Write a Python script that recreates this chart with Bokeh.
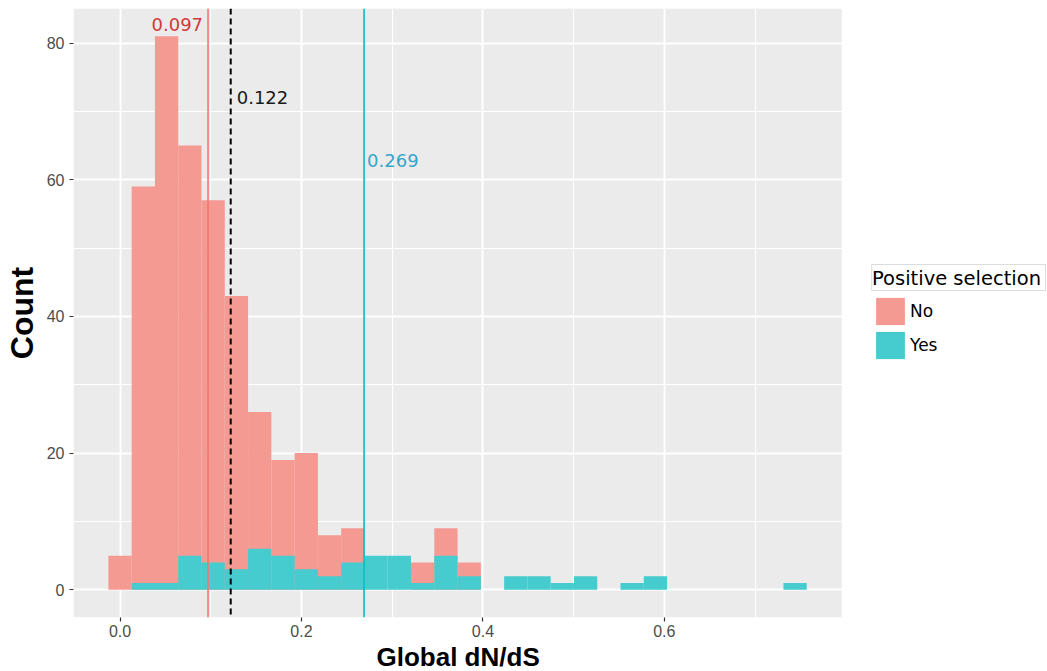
import numpy as np
from bokeh.plotting import figure
from bokeh.models import (Legend, LegendItem, Span, Label, FixedTicker, Range1d,
                          ColumnDataSource, PrintfTickFormatter, BoxAnnotation, Title)
from bokeh.embed import file_html
from bokeh.resources import INLINE

# ---- data ----
bin_width = 0.02566          # histogram bin width (30 bins, first centred at 0)
no_counts = [5, 59, 81, 65, 57, 43, 26, 19, 20, 8, 9, 0, 0, 4, 9, 4,
             0, 0, 0, 0, 0, 0, 0, 0, 0, 0, 0, 0, 0, 0]
yes_counts = [0, 1, 1, 5, 4, 3, 6, 5, 3, 2, 4, 5, 5, 1, 5, 2,
              0, 2, 2, 1, 2, 0, 1, 2, 0, 0, 0, 0, 0, 1]
median_no = 0.097
median_all = 0.122
median_yes = 0.269
x_ticks = [0.0, 0.2, 0.4, 0.6]
x_minor = [0.1, 0.3, 0.5, 0.7]
y_ticks = [0, 20, 40, 60, 80]
y_minor = [10, 30, 50, 70]
groups = ["No", "Yes"]
x_title = "Global dN/dS"
y_title = "Count"

# ---- layout ----
W, H = 1047, 671
left_border, top_border, bottom_border = 72, 8, 54
panel_px = 769                      # width of the grey panel
x_lo, x_hi = -0.0513, 0.7955        # ggplot-style expanded x limits of the panel
y_lo, y_hi = -4.05, 85.05
frame_px = W - left_border
frame_py = H - top_border - bottom_border
x_end = x_lo + (x_hi - x_lo) * frame_px / panel_px
px_per_x = panel_px / (x_hi - x_lo)
px_per_y = frame_py / (y_hi - y_lo)

def sx(px):   # canvas pixel -> data x (for decoration only)
    return x_lo + (px - left_border) / px_per_x

def sy(py):   # canvas pixel -> data y (for decoration only)
    return y_lo + (top_border + frame_py - py) / px_per_y

n = len(no_counts)
left = -bin_width / 2 + np.arange(n) * bin_width
right = left + bin_width

src_no = ColumnDataSource(dict(left=left, right=right, top=no_counts, bottom=[0] * n))
src_yes = ColumnDataSource(dict(left=left, right=right, top=yes_counts, bottom=[0] * n))

p = figure(width=W, height=H, output_backend="svg", toolbar_location=None,
           x_range=Range1d(x_lo, x_end), y_range=Range1d(y_lo, y_hi),
           min_border_left=left_border, min_border_right=0, min_border_top=top_border,
           min_border_bottom=bottom_border)

p.background_fill_color = "white"
p.border_fill_color = "white"
p.outline_line_color = None

# grey panel
p.add_layout(BoxAnnotation(left=x_lo, right=x_hi, fill_color="#EBEBEB", fill_alpha=1.0,
                           line_color=None, level="image"))

r_no = p.quad(left="left", right="right", top="top", bottom="bottom", source=src_no,
              fill_color="#F49A93", line_color=None)
r_yes = p.quad(left="left", right="right", top="top", bottom="bottom", source=src_yes,
               fill_color="#46CBCF", line_color=None)

# medians
p.add_layout(Span(location=median_no, dimension="height", line_color="#F8766D", line_width=1.6))
p.add_layout(Span(location=median_all, dimension="height", line_color="black",
                  line_width=2, line_dash="6 4"))
p.add_layout(Span(location=median_yes, dimension="height", line_color="#00BFC4", line_width=1.6))

p.add_layout(Label(x=median_no, y=82.7, x_offset=-5, text="0.097", text_align="right",
                   text_baseline="middle", text_color="#D03A3A", text_font="DejaVu Sans",
                   text_font_size="18px"))
p.add_layout(Label(x=median_all, y=72.0, x_offset=6, text="0.122", text_align="left",
                   text_baseline="middle", text_color="#1A1A1A", text_font="DejaVu Sans",
                   text_font_size="18px"))
p.add_layout(Label(x=median_yes, y=62.8, x_offset=3, text="0.269", text_align="left",
                   text_baseline="middle", text_color="#35A6CC", text_font="DejaVu Sans",
                   text_font_size="18px"))

# axes
p.xaxis.ticker = FixedTicker(ticks=x_ticks, minor_ticks=x_minor)
p.yaxis.ticker = FixedTicker(ticks=y_ticks, minor_ticks=y_minor)
p.xaxis.formatter = PrintfTickFormatter(format="%.1f")
for ax in (p.xaxis[0], p.yaxis[0]):
    ax.axis_line_color = None
    ax.major_tick_in = 0
    ax.major_tick_out = 4
    ax.major_tick_line_color = "#333333"
    ax.major_tick_line_width = 1.2
    ax.minor_tick_line_color = None
    ax.major_label_text_font = "Liberation Sans"
    ax.major_label_text_font_size = "16px"
    ax.major_label_text_color = "#4D4D4D"
    ax.axis_label_text_font = "Liberation Sans"
    ax.axis_label_text_font_style = "bold"
    ax.axis_label_text_color = "black"

p.xaxis.major_label_standoff = 3
p.yaxis.axis_label = y_title
p.yaxis.axis_label_text_font_size = "32px"
p.yaxis.major_label_standoff = 5
p.yaxis.axis_label_standoff = 4
p.yaxis.major_label_orientation = "horizontal"

# x title centred under the grey panel (the frame extends under the legend)
x_title_px = 163
p.add_layout(Title(text=x_title, align="left", offset=(panel_px - x_title_px) / 2,
                   text_font="Liberation Sans", text_font_style="bold",
                   text_font_size="26px", text_color="black", standoff=0), "below")

for g in (p.xgrid[0], p.ygrid[0]):
    g.grid_line_color = "white"
    g.grid_line_width = 2
    g.minor_grid_line_color = "white"
    g.minor_grid_line_width = 1
p.ygrid[0].bounds = (x_lo, x_hi)

legend = Legend(items=[LegendItem(label=groups[0], renderers=[r_no]),
                       LegendItem(label=groups[1], renderers=[r_yes])],
                title="Positive selection", location=(panel_px + 30, 255))
legend.title_text_font = "DejaVu Sans"
legend.title_text_font_size = "19.5px"
legend.title_text_font_style = "normal"
legend.title_text_color = "black"
legend.title_standoff = 4
legend.label_text_font = "DejaVu Sans"
legend.label_text_font_size = "17px"
legend.label_text_color = "black"
legend.glyph_width = 36
legend.glyph_height = 34
legend.spacing = 0
legend.label_standoff = 2
legend.padding = 8
legend.margin = 0
legend.border_line_color = None
legend.background_fill_color = "white"
legend.background_fill_alpha = 0.0
p.add_layout(legend)

# thin frame drawn around the legend title, as in the reference
p.add_layout(BoxAnnotation(left=sx(871), right=sx(1045), top=sy(264), bottom=sy(290),
                           fill_alpha=0.0, line_color="#8C8C8C", line_width=1))

open("out.html", "w").write(file_html(p, INLINE))
